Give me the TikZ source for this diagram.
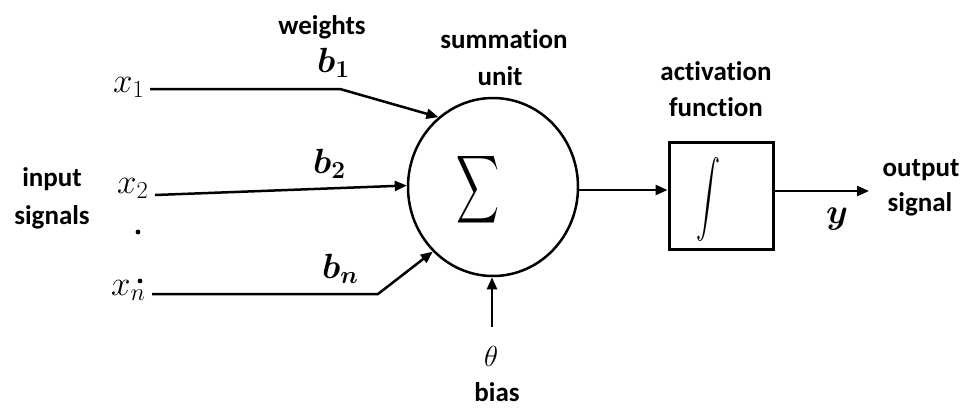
\RequirePackage{fix-cm}
\documentclass[tikz,border=0pt]{standalone}
\usepackage{amsmath}
\usepackage{bm}
\usepackage{fontspec}
\setmainfont{Carlito}[Ligatures={NoCommon,NoContextual}]
\usetikzlibrary{shapes.geometric,arrows.meta}
\tikzset{
  lbl/.style={font=\fontsize{27}{32}\selectfont\bfseries, inner sep=0pt, anchor=base},
  mth/.style={font=\fontsize{35}{40}\selectfont, inner sep=0pt, anchor=base west},
  conn/.style={line width=2.5pt, -{Triangle[length=12pt,width=10pt]}},
  wire/.style={line width=2.5pt}
}
\begin{document}
\begin{tikzpicture}[x=1pt,y=-1pt]
\useasboundingbox (0,0) rectangle (976,407);
% main shapes
\node[ellipse, draw, line width=2.5pt, minimum width=170pt, minimum height=178pt, inner sep=0pt] (sum) at (493,187) {};
\node[inner sep=0pt] (sigma) at (478,190) {\resizebox*{43pt}{76pt}{$\displaystyle\sum$}};
\node[draw, line width=3pt, minimum width=104pt, minimum height=107pt, inner sep=0pt] (box) at (721,195.5) {};
\node[inner sep=0pt] (integ) at (708,200) {\resizebox*{24pt}{84pt}{$\displaystyle\int$}};
% labels
\node[lbl] (weights) at (322,34) {weights};
\node[lbl] (summation) at (504,48) {summation};
\node[lbl] (unit) at (500,85) {unit};
\node[lbl] (activation) at (716,80) {activation};
\node[lbl] (function) at (716,116) {function};
\node[lbl] (output) at (921,176) {output};
\node[lbl] (signal) at (920,211) {signal};
\node[lbl] (input) at (52,186) {input};
\node[lbl] (signals) at (52,224) {signals};
\node[lbl] (bias) at (497,401) {bias};
% math labels
\node[mth] (x1) at (113,92) {$x_1$};
\node[mth] (x2) at (117,193) {$x_2$};
\node[mth] (xn) at (111,295) {$x_n$};
\node[mth] (b1) at (317,72) {$\bm{b_1}$};
\node[mth] (b2) at (313,173) {$\bm{b_2}$};
\node[mth] (bn) at (322,278) {$\bm{b_n}$};
\node[mth] (yout) at (826,223) {$\bm{y}$};
\node[mth, font=\fontsize{29}{34}\selectfont] (theta) at (484,366) {$\theta$};
% dots
\fill (138,232) circle (2.4pt);
\fill (140,281) circle (2.4pt);
% connectors
\coordinate (s1) at (150,89);
\coordinate (k1) at (340,89);
\coordinate (s2) at (155,195);
\coordinate (sn) at (152,294);
\coordinate (kn) at (378,294);
\coordinate (bs) at (492,327);
\coordinate (outend) at (869,191);
\draw[conn] (s1) -- (k1) -- (sum.128);
\draw[conn] (s2) -- (sum.179);
\draw[conn] (sn) -- (kn) -- (sum.227);
\draw[conn] (bs) -- (bs |- sum.south);
\draw[conn] (sum.-2) -- (sum.-2 -| box.west);
\draw[conn] (outend -| box.east) -- (outend);
\end{tikzpicture}
\end{document}
